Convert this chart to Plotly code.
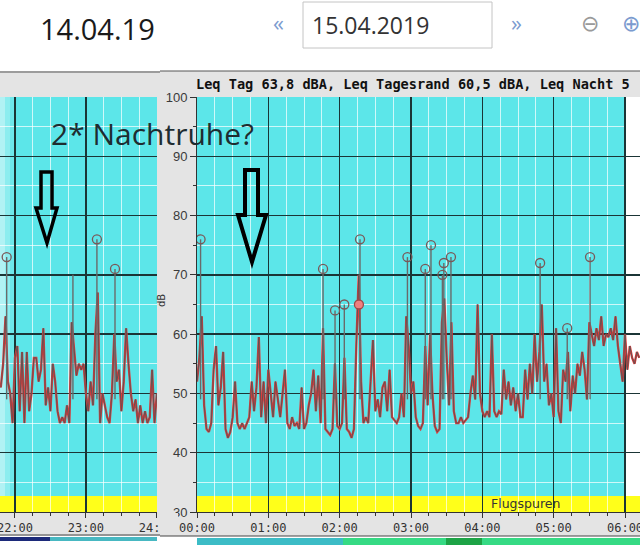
import plotly.graph_objects as go

W, H = 640, 547

# ---------------- data ----------------
# left panel (14.04.19), minutes relative to 22:00, 2-minute grid
left_start_min, left_step_min = -12, 2
left_values = [51, 55, 63, 52, 50, 45,
               56, 58, 47, 57, 45, 57, 47, 50, 56, 56,
               52, 54, 61, 48, 51, 47, 55, 52, 47, 45,
               46, 45, 48, 45, 62, 58, 53, 55, 54, 55,
               50, 47, 52, 48, 60, 67, 45, 50, 48, 46,
               45, 50, 60, 52, 54, 47, 52, 61, 55, 50,
               47, 49, 45, 48, 45, 47, 45, 46, 54, 45,
               50]
# right panel (15.04.2019), minutes after 00:00, 2-minute grid
right_start_min, right_step_min = 0, 2
right_values = [52, 56, 63, 48, 44, 43.5, 45, 54, 58, 48,
                51, 57, 44, 42.5, 43.5, 46, 52, 45, 44, 45,
                44, 45, 46, 52, 47, 51, 59.5, 46, 52, 45,
                54, 50, 46, 52, 49, 46, 50, 54, 45, 44,
                46, 44.5, 45, 44, 51, 44, 45, 48, 50, 54,
                47, 53, 45, 61, 44, 43.5, 43, 44, 55, 44.5,
                44, 45, 56, 44, 43.5, 42.5, 44, 58, 70, 52,
                45, 46, 45, 52, 59, 47, 49, 46, 51, 52,
                47, 54, 46, 45.5, 45, 46, 50, 46, 63, 58,
                50, 52, 46, 44.5, 44, 45, 58, 48, 60, 50,
                44.5, 43.5, 44, 62, 66, 56, 48, 62, 47, 45,
                45, 46, 45, 45.5, 46, 50, 53, 49, 65, 50,
                47, 46, 47, 46, 60, 47, 46, 47, 46.5, 54,
                49, 52, 48, 51, 47, 50, 46, 46, 54, 49,
                55, 50, 60, 52, 57, 65, 52, 55, 48, 50,
                46, 61, 47, 45, 54, 52, 57, 47, 53, 50,
                55, 53, 57, 54, 49, 62, 60, 58, 61, 59,
                63, 58, 60, 59.5, 61, 59, 63, 58, 55, 52,
                60, 54, 58, 56, 55, 57, 56]

# marked events (hours, dB)
left_event_t = [21.883, 23.155, 23.41]
left_event_peak = [73, 76, 71]
left_spike_t = [22.817]
left_spike_peak = [70]
right_event_t = [0.05, 1.767, 1.935, 2.065, 2.285, 2.95, 3.2, 3.28, 3.44, 3.46, 3.56, 4.81, 5.19, 5.51]
right_event_peak = [76, 71, 64, 65, 76, 73, 71, 75, 70, 72, 73, 72, 61, 73]
red_event_t = [2.27]
red_event_peak = [65]
stem_base = 49

left_ticks = [22, 23, 24]
left_ticktext = ["22:00", "23:00", "24:00"]
right_ticks = [0, 1, 2, 3, 4, 5, 6]
right_ticktext = ["00:00", "01:00", "02:00", "03:00", "04:00", "05:00", "06:00"]
y_ticks = [30, 40, 50, 60, 70, 80, 90, 100]

header_text = "Leq Tag 63,8 dBA, Leq Tagesrand 60,5 dBA, Leq Nacht 5"

# ---------------- helpers ----------------
def PX(x):
    return x / W

def PY(y):
    return 1 - y / H

left_t = [22 + (left_start_min + i * left_step_min) / 60 for i in range(len(left_values))]
right_t = [(right_start_min + i * right_step_min) / 60 for i in range(len(right_values))]

def stems(ts, peaks, base):
    xs, ys = [], []
    for t, p in zip(ts, peaks):
        xs += [t, t, None]
        ys += [base, p, None]
    return xs, ys

CYAN = "#5ce6e9"
RED = "#e03a3a"
GRAY = "#555555"

fig = go.Figure()

for (t, v, xa, ya) in [(left_t, left_values, "x", "y"), (right_t, right_values, "x2", "y2")]:
    fig.add_trace(go.Scatter(x=t, y=v, xaxis=xa, yaxis=ya, mode="lines",
                             line=dict(color=RED, width=2.3), hoverinfo="skip"))
    fig.add_trace(go.Scatter(x=t, y=v, xaxis=xa, yaxis=ya, mode="lines",
                             line=dict(color=GRAY, width=0.9), hoverinfo="skip"))

sx, sy = stems(left_event_t + left_spike_t, left_event_peak + left_spike_peak, stem_base)
fig.add_trace(go.Scatter(x=sx, y=sy, xaxis="x", yaxis="y", mode="lines",
                         line=dict(color="#6a6a6a", width=1.4), hoverinfo="skip"))
sx, sy = stems(right_event_t, right_event_peak, stem_base)
fig.add_trace(go.Scatter(x=sx, y=sy, xaxis="x2", yaxis="y2", mode="lines",
                         line=dict(color="#6a6a6a", width=1.4), hoverinfo="skip"))
fig.add_trace(go.Scatter(x=left_event_t, y=left_event_peak, xaxis="x", yaxis="y", mode="markers",
                         marker=dict(symbol="circle-open", size=9, color="#7a5858", line=dict(width=1.3))))
fig.add_trace(go.Scatter(x=right_event_t, y=right_event_peak, xaxis="x2", yaxis="y2", mode="markers",
                         marker=dict(symbol="circle-open", size=9, color="#7a5858", line=dict(width=1.3))))
fig.add_trace(go.Scatter(x=red_event_t, y=red_event_peak, xaxis="x2", yaxis="y2", mode="markers",
                         marker=dict(symbol="circle", size=9, color="#f08080", line=dict(width=1.3, color="#a04848"))))

# ---------------- shapes ----------------
shapes = []

def rect_px(x0, y0, x1, y1, fill, line=None, layer="below"):
    shapes.append(dict(type="rect", xref="paper", yref="paper",
                       x0=PX(x0), x1=PX(x1), y0=PY(y1), y1=PY(y0),
                       fillcolor=fill, line=line if line else dict(width=0), layer=layer))

def line_px(x0, y0, x1, y1, color, width=1, layer="below"):
    shapes.append(dict(type="line", xref="paper", yref="paper",
                       x0=PX(x0), x1=PX(x1), y0=PY(y0), y1=PY(y1),
                       line=dict(color=color, width=width), layer=layer))

# top white area and bottom white strip
rect_px(0, 0, 640, 71, "white")
rect_px(0, 536, 640, 547, "white")
line_px(0, 72, 160, 72, "#555555", 1)
line_px(160, 71, 640, 71, "#555555", 1)
line_px(0, 535, 160, 535, "#444444", 1.2)
line_px(160, 536, 640, 536, "#444444", 1.2)

# plot backgrounds (axis-referenced so they sit under the grid)
shapes.append(dict(type="rect", xref="x", yref="y", x0=21.7, x1=24.1, y0=30, y1=100,
                   fillcolor=CYAN, line=dict(width=0), layer="below"))
shapes.append(dict(type="rect", xref="x2", yref="y2", x0=0, x1=6.0, y0=30, y1=100,
                   fillcolor=CYAN, line=dict(width=0), layer="below"))
# lighter left edge of the left panel
for i, op in enumerate([0.33, 0.21, 0.11]):
    shapes.append(dict(type="rect", xref="x", yref="y", x0=21.7, x1=21.789 + (5 + 5 * i) / 71,
                       y0=30, y1=100, fillcolor="white", opacity=op,
                       line=dict(width=0), layer="below"))
# yellow band
shapes.append(dict(type="rect", xref="x", yref="y", x0=21.7, x1=24.1, y0=30, y1=32.7,
                   fillcolor="#ffff1a", line=dict(width=0), layer="below"))
shapes.append(dict(type="rect", xref="x2", yref="y2", x0=-0.1, x1=6.3, y0=30, y1=32.7,
                   fillcolor="#ffff1a", line=dict(width=0), layer="below"))

# cover the tail of the "24:00" label
rect_px(160, 513, 178, 534, "#e4e4e4", layer="above")

# date box
rect_px(303, 2, 492, 48, "white", line=dict(color="#c4c4c4", width=1), layer="above")

# bottom colour bars
rect_px(0, 537, 50, 541, "#1c2a7a")
rect_px(50, 537, 157, 541, "#48b8c2")
rect_px(197, 538, 343, 545, "#3cbcc6")
rect_px(343, 538, 640, 545, "#36da84")
rect_px(446, 538, 482, 545, "#1da346")

# hollow arrows
def arrow(points, width):
    d = "M " + " L ".join(f"{PX(x):.5f} {PY(y):.5f}" for x, y in points) + " Z"
    shapes.append(dict(type="path", xref="paper", yref="paper", path=d,
                       line=dict(color="black", width=width), layer="above"))

arrow([(41, 172), (52, 172), (52, 208), (57, 208), (47, 243), (36, 208), (41, 208)], 3.5)
arrow([(245, 170), (258, 170), (258, 215), (266, 215), (252, 262), (238, 215), (245, 215)], 4)

# ---------------- annotations ----------------
ann = []

def text_px(x, y, s, size, color="#222", family="Open Sans", xanchor="center", yanchor="middle", angle=0, bold=False):
    ann.append(dict(x=PX(x), y=PY(y), xref="paper", yref="paper", text=("<b>%s</b>" % s) if bold else s,
                    showarrow=False, xanchor=xanchor, yanchor=yanchor, textangle=angle,
                    font=dict(size=size, color=color, family=family)))

text_px(97, 28, "14.04.19", 29, "#1a1a1a")
text_px(278, 22, "«", 22, "#7b9bcf")
text_px(310, 25, "15.04.2019", 23, "#333333", xanchor="left")
text_px(516, 22, "»", 22, "#7b9bcf")
text_px(590, 24, "⊖", 22, "#9a9a9a", family="DejaVu Sans")
text_px(631, 24, "⊕", 22, "#7b9bcf", family="DejaVu Sans")
text_px(194, 84, header_text, 13.6, "#111111", family="DejaVu Sans Mono", xanchor="left", bold=True)
text_px(152, 134, "2* Nachtruhe?", 30, "#1e2c30")
text_px(525, 503, "Flugspuren", 12.5, "#333333", family="DejaVu Sans")
text_px(161, 301, "dB", 10, "#333333", family="DejaVu Sans", angle=-90)

# ---------------- layout ----------------
ydom = [PY(512), PY(97)]
axis_common = dict(showgrid=True, gridcolor="#1b3536", gridwidth=1.3, zeroline=False,
                   showline=True, linecolor="#333333", linewidth=1, automargin=False)
minor_x = dict(dtick=0.25, showgrid=True, gridcolor="rgba(255,255,255,0.7)", gridwidth=1,
               ticks="outside", ticklen=3, tickcolor="#333333")
minor_y = dict(dtick=5, showgrid=True, gridcolor="rgba(255,255,255,0.7)", gridwidth=1,
               ticks="outside", ticklen=3, tickcolor="#333333")

fig.update_layout(
    width=W, height=H, autosize=False,
    margin=dict(l=0, r=0, t=0, b=0, pad=0, autoexpand=False),
    paper_bgcolor="#e4e4e4", plot_bgcolor="white",
    showlegend=False, hovermode=False,
    shapes=shapes, annotations=ann,
    xaxis=dict(domain=[0, PX(157)], range=[21.789, 24.002], tickvals=left_ticks, ticktext=left_ticktext,
               ticks="outside", ticklen=5, tickcolor="#333333", ticklabeloverflow="allow",
               tickfont=dict(family="DejaVu Sans Mono", size=12, color="#333333"),
               minor=minor_x, anchor="y", **axis_common),
    yaxis=dict(domain=ydom, range=[30, 100], tickvals=y_ticks, showticklabels=False,
               minor=dict(dtick=5, showgrid=True, gridcolor="rgba(255,255,255,0.7)", gridwidth=1),
               anchor="x", **axis_common),
    xaxis2=dict(domain=[PX(197), 1], range=[0, 6.21], tickvals=right_ticks, ticktext=right_ticktext,
                ticks="outside", ticklen=5, tickcolor="#333333", ticklabeloverflow="allow",
                tickfont=dict(family="DejaVu Sans Mono", size=12, color="#333333"),
                minor=minor_x, anchor="y2", **axis_common),
    yaxis2=dict(domain=ydom, range=[30, 100], tickvals=y_ticks, ticks="outside", ticklen=6,
                tickcolor="#333333", tickfont=dict(family="Liberation Sans", size=13, color="#3a3a3a"),
                minor=minor_y, anchor="x2", **axis_common),
)

fig.write_html("out.html", config={"displayModeBar": False, "staticPlot": True},
               post_script="document.body.style.margin='0px';document.body.style.overflow='hidden';")
